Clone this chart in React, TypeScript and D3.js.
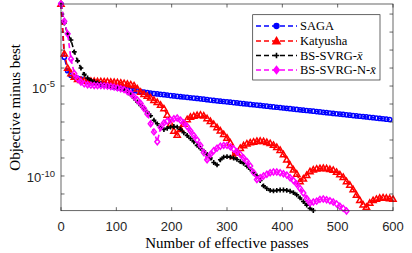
import * as d3 from 'd3';

// effective passes at which every method was evaluated
const passes = d3.range(0, 601, 6);

// log10(objective - best); null = no point
const sagaLog = [
    -0.44, -3.4, -4.15, -4.4, -4.5, -4.57, -4.62, -4.67, -4.71, -4.76,
    -4.8, -4.84, -4.89, -4.93, -4.97, -5.01, -5.05, -5.09, -5.12, -5.16,
    -5.19, -5.22, -5.25, -5.28, -5.31, -5.34, -5.37, -5.39, -5.42, -5.44,
    -5.46, -5.48, -5.5, -5.53, -5.55, -5.57, -5.59, -5.61, -5.63, -5.65,
    -5.67, -5.69, -5.71, -5.73, -5.76, -5.78, -5.8, -5.82, -5.84, -5.86,
    -5.88, -5.9, -5.92, -5.94, -5.96, -5.98, -6.0, -6.02, -6.04, -6.06,
    -6.08, -6.1, -6.12, -6.14, -6.16, -6.18, -6.2, -6.22, -6.24, -6.26,
    -6.28, -6.3, -6.32, -6.34, -6.36, -6.38, -6.4, -6.42, -6.44, -6.46,
    -6.48, -6.5, -6.52, -6.54, -6.56, -6.58, -6.6, -6.62, -6.64, -6.66,
    -6.68, -6.7, -6.72, -6.74, -6.76, -6.78, -6.8, -6.82, -6.84, -6.86,
    null,
];

const katyushaLog = [
    -0.44, -3.2, -4.0, -4.3, -4.5, -4.62, -4.68, -4.7, -4.72, -4.72,
    -4.73, -4.74, -4.74, -4.75, -4.76, -4.77, -4.78, -4.8, -4.82, -4.85,
    -4.88, -4.92, -4.97, -5.15, -5.33, -5.45, -5.55, -5.65, -5.78, -5.9,
    -6.05, -6.25, -6.6, -7.1, -7.5, -7.72, -7.4, -7.1, -6.85, -6.72,
    -6.66, -6.62, -6.6, -6.65, -6.8, -6.95, -7.12, -7.3, -7.48, -7.68,
    -7.88, -8.15, -8.9, -8.7, -8.45, -8.3, -8.2, -8.14, -8.1, -8.06,
    -8.05, -8.07, -8.12, -8.18, -8.28, -8.4, -8.56, -8.8, -9.1, -9.4,
    -9.65, -9.88, -10.3, -10.15, -9.95, -9.75, -9.65, -9.6, -9.57, -9.56,
    -9.58, -9.62, -9.67, -9.78, -9.92, -10.06, -10.3, -10.5, -10.75, -11.05,
    -11.35, -11.6, -11.72, -11.5, -11.35, -11.28, -11.22, -11.2, -11.22, -11.25,
    -11.28,
];

const bsSvrgLog = [
    -0.44, -1.5, -2.1, -2.44, -3.1, -3.6, -4.0, -4.35, -4.55, -4.68,
    -4.76, -4.82, -4.88, -4.93, -4.97, -5.01, -5.05, -5.08, -5.12, -5.17,
    -5.3, -5.48, -5.68, -5.88, -6.08, -6.25, -6.45, -6.65, -6.9, -7.1,
    -7.3, -7.42, -7.35, -7.28, -7.25, -7.28, -7.4, -7.6, -7.75, -7.92,
    -8.1, -8.3, -8.47, -8.62, -8.8, -9.0, -9.25, -9.38, -9.1, -8.95,
    -8.92, -8.95, -9.0, -9.08, -9.2, -9.3, -9.45, -9.62, -9.82, -10.0,
    -10.25, -10.55, -10.7, -10.8, -10.83, -10.8, -10.78, -10.78, -10.8, -10.85,
    -10.92, -11.05, -11.22, -11.42, -11.62, -11.8, -11.92, null, null, null,
    null, null, null, null, null, null, null, null, null, null,
    null, null, null, null, null, null, null, null, null, null,
    null,
];

const bsSvrgNLog = [
    -0.44, -1.4, -2.1, -3.5, -4.3, -4.6, -4.78, -4.88, -4.93, -4.95,
    -4.97, -4.98, -4.98, -4.99, -5.0, -5.03, -5.06, -5.1, -5.15, -5.2,
    -5.3, -5.42, -5.6, -5.78, -5.97, -6.25, -6.55, -7.1, -7.55, -8.1,
    -7.3, -7.05, -6.95, -6.88, -6.82, -6.78, -6.9, -7.05, -7.25, -7.5,
    -7.75, -8.0, -8.3, -8.7, -9.1, -8.8, -8.6, -8.45, -8.35, -8.3,
    -8.3, -8.38, -8.5, -8.65, -8.8, -9.0, -9.2, -9.45, -9.8, -10.2,
    -10.1, -10.0, -9.9, -9.82, -9.78, -9.78, -9.82, -9.88, -9.95, -10.1,
    -10.25, -10.45, -10.7, -10.95, -11.25, -11.5, -11.45, -11.4, -11.3, -11.28,
    -11.32, -11.38, -11.45, -11.55, -11.68, -11.8, -11.95, null, null, null,
    null, null, null, null, null, null, null, null, null, null,
    null,
];

const xTicks = [0, 100, 200, 300, 400, 500, 600];
const yTickExps = [-1, -2, -3, -4, -5, -6, -7, -8, -9, -10, -11];
const yLabelExps = [-5, -10];

const W = 412;
const H = 253;
const margin = { top: 4, right: 19, bottom: 42.3, left: 61 };
const axisColor = '#262626';
const serif = '"Liberation Serif", "DejaVu Serif", serif';
const sans = '"Liberation Sans", Arial, sans-serif';

type Marker = 'circle' | 'triangle' | 'plus' | 'diamond';

interface Series {
    name: string;
    color: string;
    marker: Marker;
    values: (number | null)[];
}

const series: Series[] = [
    { name: 'SAGA', color: '#0000ff', marker: 'circle', values: sagaLog },
    { name: 'Katyusha', color: '#ff0000', marker: 'triangle', values: katyushaLog },
    { name: 'BS-SVRG-', color: '#000000', marker: 'plus', values: bsSvrgLog },
    { name: 'BS-SVRG-N-', color: '#ff00ff', marker: 'diamond', values: bsSvrgNLog },
];

function MarkerShape({ kind, x, y, color, filled, scale = 1 }: {
    kind: Marker; x: number; y: number; color: string; filled?: boolean; scale?: number;
}) {
    const sw = 1.5;
    const fill = filled ? color : 'none';
    if (kind === 'circle') {
        return <circle cx={x} cy={y} r={2.1 * scale} fill={fill} stroke={color} strokeWidth={sw} />;
    }
    if (kind === 'triangle') {
        const s = 3.1 * scale;
        return (
            <path
                d={`M${x},${y - s}L${x + s},${y + s * 0.75}L${x - s},${y + s * 0.75}Z`}
                fill={fill} stroke={color} strokeWidth={sw}
            />
        );
    }
    if (kind === 'diamond') {
        const s = 3.0 * scale;
        return (
            <path
                d={`M${x},${y - s}L${x + s * 0.8},${y}L${x},${y + s}L${x - s * 0.8},${y}Z`}
                fill={fill} stroke={color} strokeWidth={sw}
            />
        );
    }
    const s = 2.4 * scale;
    return (
        <path d={`M${x - s},${y}H${x + s}M${x},${y - s}V${y + s}`} stroke={color} strokeWidth={1.6} />
    );
}

export default function App() {
    const innerW = W - margin.left - margin.right;
    const innerH = H - margin.top - margin.bottom;

    const x = d3.scaleLinear().domain([0, 600]).range([margin.left, margin.left + innerW]);
    const y = d3.scaleLog()
        .domain([Math.pow(10, -11.93), Math.pow(10, -0.44)])
        .range([margin.top + innerH, margin.top]);

    const line = d3.line<[number, number | null]>()
        .defined(d => d[1] !== null)
        .x(d => x(d[0]))
        .y(d => y(Math.pow(10, d[1] as number)));

    const left = margin.left;
    const right = margin.left + innerW;
    const top = margin.top;
    const bottom = margin.top + innerH;
    const tickLen = 3.5;

    // legend layout
    const lgX = 252.7;
    const lgY = 14.7;
    const lgW = 127.3;
    const lgH = 65.3;
    const rowY = [26, 41, 55.5, 70];

    return (
        <svg width={W} height={H} style={{ position: 'absolute', left: 0, top: 0, background: '#fff' }}>
            {/* series */}
            {series.map(s => {
                const pts = passes.map((p, i) => [p, s.values[i]] as [number, number | null]);
                return (
                    <g key={s.name}>
                        <path d={line(pts) || ''} fill="none" stroke={s.color} strokeWidth={1.6} strokeDasharray="5,3" />
                        {pts.filter(d => d[1] !== null).map((d, i) => (
                            <MarkerShape key={i} kind={s.marker} x={x(d[0])} y={y(Math.pow(10, d[1] as number))} color={s.color} />
                        ))}
                    </g>
                );
            })}

            {/* axes box */}
            <rect x={left} y={top} width={innerW} height={innerH} fill="none" stroke={axisColor} strokeWidth={0.7} />
            {xTicks.map(t => (
                <g key={t}>
                    <line x1={x(t)} x2={x(t)} y1={bottom} y2={bottom - tickLen} stroke={axisColor} strokeWidth={0.7} />
                    <line x1={x(t)} x2={x(t)} y1={top} y2={top + tickLen} stroke={axisColor} strokeWidth={0.7} />
                    <text x={x(t)} y={230.7} textAnchor="middle" fontFamily={sans} fontSize={13} fill={axisColor}>{t}</text>
                </g>
            ))}
            {yTickExps.map(e => (
                <g key={e}>
                    <line x1={left} x2={left + tickLen} y1={y(Math.pow(10, e))} y2={y(Math.pow(10, e))} stroke={axisColor} strokeWidth={0.7} />
                    <line x1={right} x2={right - tickLen} y1={y(Math.pow(10, e))} y2={y(Math.pow(10, e))} stroke={axisColor} strokeWidth={0.7} />
                </g>
            ))}
            {yLabelExps.map(e => (
                <text key={e} x={55} y={y(Math.pow(10, e)) + 6.5} textAnchor="end" fontFamily={sans} fontSize={13} fill={axisColor}>
                    10<tspan dy={-5.5} fontSize={9.5}>{`-${-e}`}</tspan>
                </text>
            ))}

            {/* axis titles */}
            <text x={(left + right) / 2} y={248.3} textAnchor="middle" fontFamily={serif} fontSize={15} fill="#000">
                Number of effective passes
            </text>
            <text
                transform={`translate(19.5,${(top + bottom) / 2}) rotate(-90)`}
                textAnchor="middle" fontFamily={serif} fontSize={15} fill="#000"
            >
                Objective minus best
            </text>

            {/* legend */}
            <rect x={lgX} y={lgY} width={lgW} height={lgH} fill="#fff" stroke={axisColor} strokeWidth={0.7} />
            {series.map((s, i) => (
                <g key={s.name}>
                    <line x1={256} x2={297} y1={rowY[i]} y2={rowY[i]} stroke={s.color} strokeWidth={1.6} strokeDasharray="5,3" />
                    <MarkerShape kind={s.marker} x={276.5} y={rowY[i]} color={s.color} filled scale={1.15} />
                    <text x={300} y={rowY[i] + 4.2} fontFamily={serif} fontSize={12.5} fill="#000">
                        {s.name}
                        {i >= 2 && <tspan fontStyle="italic">{'x\u0304'}</tspan>}
                    </text>
                </g>
            ))}
        </svg>
    );
}
